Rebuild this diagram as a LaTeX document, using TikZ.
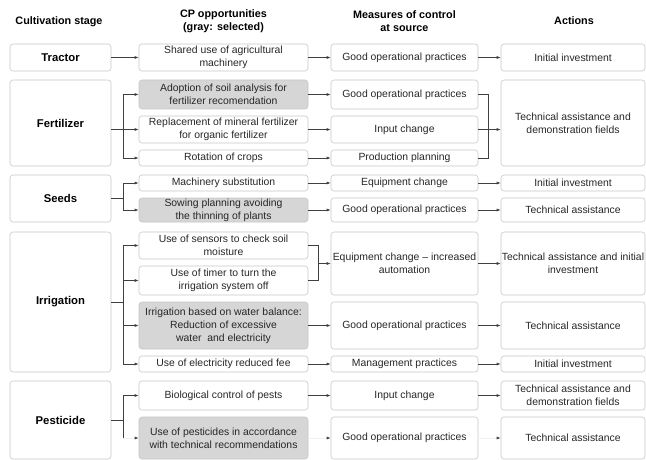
\documentclass[tikz,border=0pt]{standalone}
\usepackage{fontspec}
\setmainfont{Liberation Sans}
\usetikzlibrary{arrows.meta,calc}
\begin{document}
\begin{tikzpicture}[x=1pt,y=-1pt,
  box/.style={draw=black!22, rounded corners=3pt, line width=0.6pt, align=center, inner sep=0pt,
    font=\fontsize{10.4}{13}\selectfont, text=black!85},
  sel/.style={box, fill=black!16},
  stage/.style={box, font=\fontsize{11.3}{13}\selectfont\bfseries, text=black},
  hdr/.style={align=center, font=\fontsize{10.8}{13}\selectfont\bfseries, inner sep=0pt},
  ln/.style={draw=black!75, line width=0.6pt},
  arr/.style={ln, -{Latex[length=4pt,width=3pt]}},
  faint/.style={draw=black!6, line width=0.6pt, -{Latex[length=4pt,width=3pt,black!75]}}]
\useasboundingbox (0,0) rectangle (646,460);
% headers
\node[hdr] (h1) at (59,22) {Cultivation stage};
\node[hdr] (h2) at (223.5,21.5) {CP opportunities\\(gray: selected)};
\node[hdr] (h3) at (404.5,21.5) {Measures of control\\at source};
\node[hdr] (h4) at (574,21) {Actions};
% junction columns
\coordinate (jA) at (123,0);
\coordinate (jB) at (318,0);
\coordinate (jC) at (488,0);
% Tractor
\node[stage, minimum width=101, minimum height=27] (T1) at (60.5,57.5) {Tractor};
\node[box, minimum width=169, minimum height=27] (T2) at (223.5,57.5) {Shared use of agricultural\\machinery};
\node[box, minimum width=147, minimum height=27] (T3) at (404.5,57.5) {Good operational practices};
\node[box, minimum width=144, minimum height=27] (T4) at (573,57.5) {Initial investment};
% Fertilizer
\node[stage, minimum width=101, minimum height=86] (F1) at (60.5,123) {Fertilizer};
\node[sel, minimum width=169, minimum height=29] (F2a) at (223.5,94.5) {Adoption of soil analysis for\\fertilizer recomendation};
\node[box, minimum width=169, minimum height=27] (F2b) at (223.5,129.5) {Replacement of mineral fertilizer\\for organic fertilizer};
\node[box, minimum width=169, minimum height=16] (F2c) at (223.5,158) {Rotation of crops};
\node[box, minimum width=147, minimum height=29] (F3a) at (404.5,94.5) {Good operational practices};
\node[box, minimum width=147, minimum height=27] (F3b) at (404.5,129.5) {Input change};
\node[box, minimum width=147, minimum height=16] (F3c) at (404.5,158) {Production planning};
\node[box, minimum width=144, minimum height=86] (F4) at (573,123) {Technical assistance and\\demonstration fields};
% Seeds
\node[stage, minimum width=101, minimum height=47] (S1) at (60.5,198.5) {Seeds};
\node[box, minimum width=169, minimum height=16] (S2a) at (223.5,183) {Machinery substitution};
\node[sel, minimum width=169, minimum height=24] (S2b) at (223.5,210) {Sowing planning avoiding\\the thinning of plants};
\node[box, minimum width=147, minimum height=16] (S3a) at (404.5,183) {Equipment change};
\node[box, minimum width=147, minimum height=24] (S3b) at (404.5,210) {Good operational practices};
\node[box, minimum width=144, minimum height=16] (S4a) at (573,183) {Initial investment};
\node[box, minimum width=144, minimum height=24] (S4b) at (573,210) {Technical assistance};
% Irrigation
\node[stage, minimum width=101, minimum height=140] (I1) at (60.5,302) {Irrigation};
\node[box, minimum width=169, minimum height=27] (I2a) at (223.5,245.5) {Use of sensors to check soil\\moisture};
\node[box, minimum width=169, minimum height=29] (I2b) at (223.5,280.5) {Use of timer to turn the\\irrigation system off};
\node[sel, minimum width=169, minimum height=47] (I2c) at (223.5,325.5) {Irrigation based on water balance:\\Reduction of excessive\\water\ \ and electricity};
\node[box, minimum width=169, minimum height=16] (I2d) at (223.5,364) {Use of electricity reduced fee};
\node[box, minimum width=147, minimum height=63] (I3a) at (404.5,263.5) {Equipment change -- increased\\automation};
\node[box, minimum width=147, minimum height=47] (I3b) at (404.5,325.5) {Good operational practices};
\node[box, minimum width=147, minimum height=16] (I3c) at (404.5,364) {Management practices};
\node[box, minimum width=144, minimum height=63] (I4a) at (573,263.5) {Technical assistance and initial\\investment};
\node[box, minimum width=144, minimum height=47] (I4b) at (573,325.5) {Technical assistance};
\node[box, minimum width=144, minimum height=16] (I4c) at (573,364) {Initial investment};
% Pesticide
\node[stage, minimum width=101, minimum height=78] (P1) at (60.5,420) {Pesticide};
\node[box, minimum width=169, minimum height=29] (P2a) at (223.5,395.5) {Biological control of pests};
\node[sel, minimum width=169, minimum height=42] (P2b) at (223.5,438) {Use of pesticides in accordance\\with technical recommendations};
\node[box, minimum width=147, minimum height=29] (P3a) at (404.5,395.5) {Input change};
\node[box, minimum width=147, minimum height=42] (P3b) at (404.5,438) {Good operational practices};
\node[box, minimum width=144, minimum height=29] (P4a) at (573,395.5) {Technical assistance and\\demonstration fields};
\node[box, minimum width=144, minimum height=42] (P4b) at (573,438) {Technical assistance};
% ---- connectors
% Tractor
\draw[arr] (T1) -- (T2);
\draw[arr] (T2) -- (T3);
\draw[arr] (T3) -- (T4);
% Fertilizer
\draw[arr] (F1.east |- F2b.west) -- (F2b.west);
\draw[ln] (jA |- F2a.west) -- (jA |- F2c.west);
\draw[arr] (jA |- F2a.west) -- (F2a.west);
\draw[arr] (jA |- F2c.west) -- (F2c.west);
\draw[arr] (F2a) -- (F3a);
\draw[arr] (F2b) -- (F3b);
\draw[arr] (F2c) -- (F3c);
\draw[ln] (F3a.east) -| (jC |- F3c.east) -- (F3c.east);
\draw[arr] (F3b.east) -- (F3b.east -| F4.west);
% Seeds
\draw[ln] (S1.east) -- (jA |- S1.east);
\draw[ln] (jA |- S2a.west) -- (jA |- S2b.west);
\draw[arr] (jA |- S2a.west) -- (S2a.west);
\draw[arr] (jA |- S2b.west) -- (S2b.west);
\draw[arr] (S2a) -- (S3a);
\draw[arr] (S2b) -- (S3b);
\draw[arr] (S3a) -- (S4a);
\draw[arr] (S3b) -- (S4b);
% Irrigation
\draw[ln] (I1.east) -- (jA |- I1.east);
\draw[ln] (jA |- I2a.west) -- (jA |- I2d.west);
\draw[arr] (jA |- I2a.west) -- (I2a.west);
\draw[arr] (jA |- I2b.west) -- (I2b.west);
\draw[arr] (jA |- I2c.west) -- (I2c.west);
\draw[arr] (jA |- I2d.west) -- (I2d.west);
\draw[ln] (I2a.east) -| (jB |- I2b.east) -- (I2b.east);
\draw[arr] (jB |- I3a.west) -- (I3a.west);
\draw[arr] (I2c) -- (I3b);
\draw[arr] (I2d) -- (I3c);
\draw[arr] (I3a) -- (I4a);
\draw[arr] (I3b) -- (I4b);
\draw[arr] (I3c) -- (I4c);
% Pesticide
\draw[ln] (P1.east) -- (jA |- P1.east);
\draw[ln] (jA |- P2a.west) -- (jA |- P2b.west);
\draw[arr] (jA |- P2a.west) -- (P2a.west);
\draw[faint] (jA |- P2b.west) -- (P2b.west);
\draw[arr] (P2a) -- (P3a);
\draw[faint] (P2b) -- (P3b);
\draw[arr] (P3a) -- (P4a);
\draw[faint] (P3b) -- (P4b);
\end{tikzpicture}
\end{document}
